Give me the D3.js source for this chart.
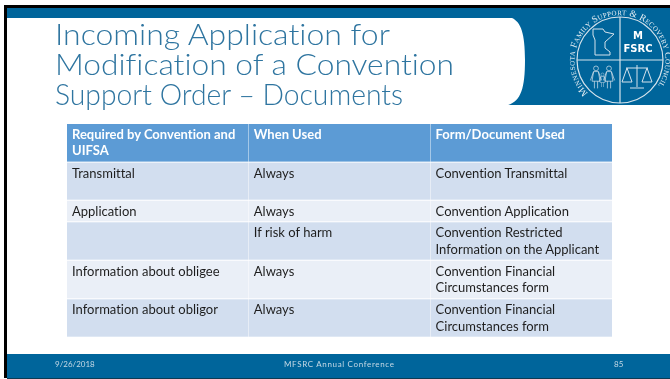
<!DOCTYPE html>
<html>
<head>
<meta charset="utf-8">
<script src="https://cdn.jsdelivr.net/npm/d3@7"></script>
<style>
  html, body { margin: 0; padding: 0; background: #fff; }
  svg { display: block; }
  text { font-variant-ligatures: none; }
</style>
</head>
<body>
<div id="chart"></div>
<script>
const titleLines = ['Incoming Application for', 'Modification of a Convention', 'Support Order \u2013 Documents'];
const columns = ['Required by Convention and UIFSA', 'When Used', 'Form/Document Used'];
const headerCells = [['Required by Convention and', 'UIFSA'], ['When Used'], ['Form/Document Used']];
const rowLabels = ['header', 'transmittal', 'application', 'risk', 'obligee', 'obligor'];
const requiredCells = [['Transmittal'], ['Application'], [], ['Information about obligee'], ['Information about obligor']];
const whenCells = [['Always'], ['Always'], ['If risk of harm'], ['Always'], ['Always']];
const formCells = [
  ['Convention Transmittal'],
  ['Convention Application'],
  ['Convention Restricted', 'Information on the Applicant'],
  ['Convention Financial', 'Circumstances form'],
  ['Convention Financial', 'Circumstances form']
];
const footerDate = '9/26/2018';
const footerName = 'MFSRC Annual Conference';
const footerPage = '85';

const width = 670;
const height = 379;
const blue = '#00659b';

const svg = d3.select('#chart').append('svg')
  .attr('width', width)
  .attr('height', height)
  .attr('viewBox', `0 0 ${width} ${height}`);

// the reference is a scaled-down slide, so everything is slightly soft
svg.append('defs').append('filter')
  .attr('id', 'soft')
  .attr('x', 0).attr('y', 0).attr('width', 1).attr('height', 1)
  .append('feGaussianBlur')
  .attr('stdDeviation', 0.35);

const slide = svg.append('g').attr('filter', 'url(#soft)');

// slide frame
slide.append('rect').attr('width', width).attr('height', height).attr('fill', '#fff');
slide.append('rect').attr('x', 4).attr('y', 5).attr('width', width - 4).attr('height', 373).attr('fill', '#000');
slide.append('rect').attr('x', 7).attr('y', 8).attr('width', width - 7).attr('height', 370).attr('fill', '#fff');
slide.append('rect').attr('x', 7).attr('y', 8).attr('width', width - 7).attr('height', 10).attr('fill', blue);
slide.append('rect').attr('x', 7).attr('y', 354).attr('width', width - 7).attr('height', 24).attr('fill', blue);
slide.append('rect').attr('x', 7).attr('y', 378).attr('width', width - 7).attr('height', 1).attr('fill', '#0b3b52');

// logo panel with the curved white edge on its left
slide.append('path')
  .attr('fill', blue)
  .attr('d', 'M512,18 C521,22 525,34 525,60 C525,88 521,101 508,105 L670,105 L670,18 Z');

// title
slide.append('g')
  .selectAll('text')
  .data(titleLines)
  .join('text')
  .attr('x', 55)
  .attr('y', (d, i) => 45 + i * 30)
  .attr('font-family', 'Lato, sans-serif')
  .attr('font-weight', 300)
  .attr('font-size', 29)
  .attr('fill', '#2f75a0')
  .attr('textLength', (d, i) => [335, 399, 348][i])
  .attr('lengthAdjust', 'spacingAndGlyphs')
  .text((d) => d);

// table
const rowHeights = [37.6, 37.1, 20.6, 37.4, 37.6, 37.4];
const rowEdges = d3.cumsum([124, ...rowHeights.map((h) => h + 1)]);
const rowY = d3.scaleOrdinal().domain(rowLabels).range(rowEdges);
const colX = d3.scaleBand().domain(columns).range([67, 612]).paddingInner(0.002);
const rowFill = ['#5b9bd5', '#d2deef', '#eaeff7', '#d2deef', '#eaeff7', '#d2deef'];

const rows = rowLabels.map((label, i) => ({
  label,
  index: i,
  cells: i === 0
    ? headerCells
    : [requiredCells[i - 1], whenCells[i - 1], formCells[i - 1]]
}));

const rowGroup = slide.append('g')
  .selectAll('g')
  .data(rows)
  .join('g')
  .attr('transform', (d) => `translate(0,${rowY(d.label)})`);

const cellGroup = rowGroup.selectAll('g')
  .data((d) => d.cells.map((lines, c) => ({ lines, column: columns[c], row: d })))
  .join('g')
  .attr('transform', (d) => `translate(${colX(d.column)},0)`);

cellGroup.append('rect')
  .attr('width', colX.bandwidth())
  .attr('height', (d) => rowHeights[d.row.index])
  .attr('fill', (d) => rowFill[d.row.index]);

cellGroup.selectAll('text')
  .data((d) => d.lines.map((line, l) => ({ line, l, header: d.row.index === 0 })))
  .join('text')
  .attr('x', 5)
  .attr('y', (d) => 15 + d.l * 16.3)
  .attr('font-family', 'Lato, sans-serif')
  .attr('font-size', 13)
  .attr('font-weight', (d) => (d.header ? 700 : 400))
  .attr('fill', (d) => (d.header ? '#fff' : '#1f1f1f'))
  .text((d) => d.line);

// footer
const footer = slide.append('g')
  .attr('font-family', 'Lato, sans-serif')
  .attr('font-size', 8)
  .attr('fill', '#c5d9e5');
footer.append('text').attr('x', 55).attr('y', 367).text(footerDate);
footer.append('text').attr('x', 284).attr('y', 367).attr('textLength', 110).text(footerName);
footer.append('text').attr('x', 614).attr('y', 367).text(footerPage);

// logo
const logo = slide.append('g')
  .attr('transform', 'translate(620,60)')
  .attr('fill', 'none')
  .attr('stroke', '#d5e3ec');
logo.append('circle').attr('r', 43).attr('stroke-width', 1.2);
logo.append('path').attr('d', 'M-43,0H43M0,-43V43').attr('stroke-width', 1.2);

logo.append('path')
  .attr('stroke-width', 1)
  .attr('d', 'M-27,-31 L-17,-31 L-15,-28 L-6,-26 L-15,-18 L-15,-12 L-10,-8 L-10,-5 L-25,-5 L-25,-20 L-27,-25 Z');

logo.append('defs').append('path')
  .attr('id', 'ringText')
  .attr('d', 'M-32,33 A45.5,45.5 0 1 1 37,27');
logo.append('text')
  .attr('fill', '#e6eff4')
  .attr('stroke', 'none')
  .attr('font-family', '"Liberation Serif", serif')
  .attr('font-size', 9.5)
  .style('font-variant', 'small-caps')
  .append('textPath')
  .attr('href', '#ringText')
  .attr('textLength', 205)
  .text('Minnesota Family Support & Recovery Council');

logo.append('g')
  .attr('fill', '#fff')
  .attr('stroke', 'none')
  .attr('font-family', '"DejaVu Sans", sans-serif')
  .attr('font-weight', 700)
  .attr('text-anchor', 'middle')
  .selectAll('text')
  .data(['M', 'FSRC'])
  .join('text')
  .attr('x', 18)
  .attr('y', (d, i) => -21 + i * 13)
  .attr('font-size', 10)
  .text((d) => d);

// family figures
const figures = logo.append('g').attr('stroke-width', 0.9);
[[-24, 6, 0.8], [-11, 6, 0.8], [-17.5, 13, 0.5]].forEach(([x, y, s]) => {
  const f = figures.append('g').attr('transform', `translate(${x},${y}) scale(${s})`);
  f.append('circle').attr('cy', 3).attr('r', 3);
  f.append('path').attr('d', 'M-3,7 L-7,18 M3,7 L7,18 M-3,7 H3 L5,19 H-5 Z M-2,19 V28 M2,19 V28');
});

// scales of justice
const balance = logo.append('g').attr('stroke-width', 1);
balance.append('path').attr('d', 'M17,5 V27 M10,28 H24 M6,8 H28');
balance.append('path').attr('d', 'M7,8 L2,22 H12 Z M27,8 L22,22 H32 Z');
</script>
</body>
</html>
